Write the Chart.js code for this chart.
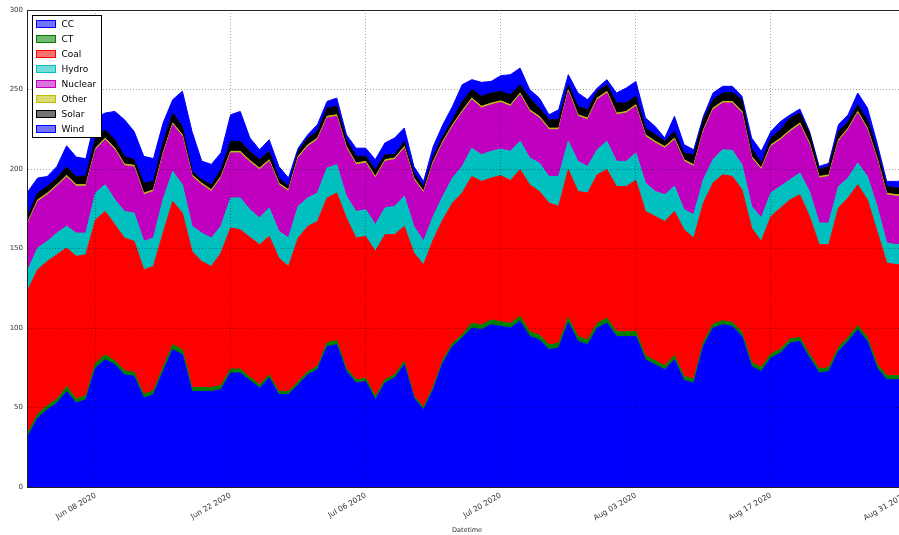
<!DOCTYPE html>
<html>
<head>
<meta charset="utf-8">
<title>Generation by fuel type</title>
<script src="https://cdn.jsdelivr.net/npm/chart.js@4.4.1/dist/chart.umd.min.js"></script>
<style>
  html, body { margin: 0; padding: 0; background: #fff; overflow: hidden; }
  #wrap { width: 908px; height: 535px; }
  canvas { display: block; }
</style>
</head>
<body>
<div id="wrap"><canvas id="genChart" width="908" height="535"></canvas></div>
<script>
"use strict";

/* ── Categorías: un punto por día (1 jun – 31 ago 2020) ─────────── */
const DATES = [
  "2020-06-01","2020-06-02","2020-06-03","2020-06-04","2020-06-05","2020-06-06","2020-06-07","2020-06-08","2020-06-09","2020-06-10",
  "2020-06-11","2020-06-12","2020-06-13","2020-06-14","2020-06-15","2020-06-16","2020-06-17","2020-06-18","2020-06-19","2020-06-20",
  "2020-06-21","2020-06-22","2020-06-23","2020-06-24","2020-06-25","2020-06-26","2020-06-27","2020-06-28","2020-06-29","2020-06-30",
  "2020-07-01","2020-07-02","2020-07-03","2020-07-04","2020-07-05","2020-07-06","2020-07-07","2020-07-08","2020-07-09","2020-07-10",
  "2020-07-11","2020-07-12","2020-07-13","2020-07-14","2020-07-15","2020-07-16","2020-07-17","2020-07-18","2020-07-19","2020-07-20",
  "2020-07-21","2020-07-22","2020-07-23","2020-07-24","2020-07-25","2020-07-26","2020-07-27","2020-07-28","2020-07-29","2020-07-30",
  "2020-07-31","2020-08-01","2020-08-02","2020-08-03","2020-08-04","2020-08-05","2020-08-06","2020-08-07","2020-08-08","2020-08-09",
  "2020-08-10","2020-08-11","2020-08-12","2020-08-13","2020-08-14","2020-08-15","2020-08-16","2020-08-17","2020-08-18","2020-08-19",
  "2020-08-20","2020-08-21","2020-08-22","2020-08-23","2020-08-24","2020-08-25","2020-08-26","2020-08-27","2020-08-28","2020-08-29",
  "2020-08-30","2020-08-31"
];

/* ── Etiquetas del eje X ─────────────────────────────────────────── */
const TICK_DATES  = ["2020-06-08","2020-06-22","2020-07-06","2020-07-20","2020-08-03","2020-08-17","2020-08-31"];
const TICK_LABELS = ["Jun 08 2020","Jun 22 2020","Jul 06 2020","Jul 20 2020","Aug 03 2020","Aug 17 2020","Aug 31 2020"];

/* ── Series (apiladas, en orden de abajo hacia arriba) ───────────── */
const CC = [
  31.8,43.4,48.6,52.8,60.1,52.8,54.9,74.8,80.1,76.9,
  70.6,69.6,55.9,58.1,72.7,86.4,83.3,60.1,60.1,60.1,
  61.2,71.7,71.7,67.0,62.3,68.6,58.1,58.1,64.3,70.6,
  73.8,88.4,89.5,72.7,65.4,66.4,54.9,65.4,68.6,76.9,
  55.9,48.6,61.2,78.0,88.4,93.7,100.0,98.9,102.1,101.0,
  100.0,104.3,94.7,92.6,86.4,87.4,103.5,91.6,89.5,100.0,
  103.1,94.7,94.7,94.7,80.1,76.9,73.8,80.1,67.0,65.4,
  88.4,100.0,102.1,101.0,94.7,75.8,72.7,81.1,84.3,90.6,
  91.6,81.1,71.7,72.7,85.3,91.6,98.9,91.6,74.8,67.5,
  67.5,67.5
];
const CT = [
  2.5,2.5,2.5,2.5,3.0,2.5,2.5,3.0,3.0,2.5,
  2.5,2.5,2.5,2.5,2.5,3.0,3.0,2.5,2.5,2.5,
  2.5,2.5,2.5,2.0,2.0,2.0,2.0,2.0,2.0,2.0,
  2.0,2.5,2.5,2.0,2.0,2.0,2.0,2.0,2.0,2.0,
  1.5,1.5,2.0,2.0,2.0,2.0,3.0,3.0,3.0,3.0,
  3.0,3.0,3.0,3.0,3.0,3.0,3.0,3.0,3.0,3.0,
  3.0,3.0,3.0,3.0,2.5,2.5,2.5,2.5,2.5,2.5,
  2.5,2.5,2.5,2.5,2.5,2.5,2.5,2.5,2.5,2.5,
  2.5,2.5,2.5,2.5,2.5,2.5,2.5,2.5,2.5,2.5,
  2.5,2.5
];
const COAL = [
  89.8,90.8,90.8,90.8,87.2,89.8,88.7,90.3,90.2,85.6,
  83.5,82.4,78.3,78.1,84.5,90.2,86.0,85.6,79.3,76.1,
  83.5,88.7,87.6,88.0,88.1,87.0,83.9,78.6,90.3,91.3,
  91.2,90.9,92.9,94.4,89.2,89.2,91.3,91.3,88.1,85.0,
  89.8,89.7,92.3,88.1,88.2,89.2,92.3,90.3,89.2,91.8,
  89.8,92.3,92.4,90.3,89.2,86.1,93.1,91.3,92.4,93.4,
  93.5,91.3,91.3,95.1,90.7,90.8,90.7,90.7,92.3,88.7,
  87.7,88.7,91.8,91.8,89.8,84.6,79.3,86.6,88.7,87.6,
  89.7,86.6,78.2,77.2,87.7,87.7,88.7,86.6,83.5,70.9,
  69.8,70.0
];
const HYDRO = [
  12.6,13.6,12.6,13.6,13.7,14.6,13.6,16.8,16.8,15.7,
  16.7,17.8,17.8,17.9,21.0,18.9,17.8,15.8,17.8,17.9,
  16.8,18.9,20.0,17.4,16.8,17.9,16.8,17.9,19.9,17.9,
  17.9,18.8,17.8,13.7,16.7,16.8,16.8,16.8,17.8,18.9,
  16.7,14.7,14.7,14.7,15.7,16.7,17.8,16.8,16.8,16.7,
  18.3,17.8,16.8,17.9,16.7,18.8,17.8,18.9,16.7,15.7,
  17.8,15.8,15.8,17.3,17.9,15.7,16.8,15.8,12.6,14.7,
  14.7,14.7,15.7,16.4,15.7,13.6,14.7,14.8,13.6,12.6,
  13.7,15.7,13.6,13.6,13.5,12.5,13.7,14.6,15.7,12.6,
  12.6,13.0
];
const NUCLEAR = [
  29.3,29.3,29.3,29.4,31.0,29.4,29.4,27.2,28.3,31.4,
  28.8,29.0,29.3,29.3,28.3,29.4,30.4,31.3,30.4,29.3,
  30.3,28.3,28.3,29.9,30.4,29.3,29.3,29.3,30.4,32.4,
  33.5,31.5,30.4,30.3,29.4,29.4,29.3,29.3,29.4,30.3,
  29.4,30.5,33.6,33.6,32.5,34.0,30.5,29.4,29.3,29.4,
  28.3,29.3,29.3,28.3,29.4,29.4,31.4,28.3,29.4,31.5,
  30.4,29.3,30.4,29.3,29.3,30.5,29.3,29.3,30.4,30.3,
  30.3,31.4,29.4,29.8,32.5,30.4,30.4,29.2,29.3,30.3,
  30.4,29.4,28.3,29.3,28.4,30.4,31.4,29.4,29.4,30.3,
  30.4,30.0
];
const OTHER = [
  1.0,1.0,1.0,1.0,1.0,1.0,1.0,1.0,1.0,1.0,
  1.0,1.0,1.0,1.0,1.0,1.0,1.0,1.0,1.0,1.0,
  1.0,1.0,1.0,1.0,1.0,1.0,1.0,1.0,1.0,1.0,
  1.0,1.0,1.0,1.0,1.0,1.0,1.0,1.0,1.0,1.0,
  1.0,1.0,1.0,1.0,1.0,1.0,1.0,1.0,1.0,1.0,
  1.0,1.0,1.0,1.0,1.0,1.0,1.0,1.0,1.0,1.0,
  1.0,1.0,1.0,1.0,1.0,1.0,1.0,1.0,1.0,1.0,
  1.0,1.0,1.0,1.0,1.0,1.0,1.0,1.0,1.0,1.0,
  1.0,1.0,1.0,1.0,1.0,1.0,1.0,1.0,1.0,1.0,
  1.0,1.0
];
const SOLAR = [
  4.3,4.4,4.3,4.2,5.3,5.2,5.6,6.4,5.3,5.3,
  4.9,3.6,6.4,5.3,6.4,6.3,5.3,2.2,2.2,3.2,
  4.3,6.3,6.3,5.7,5.3,5.3,3.2,2.2,3.2,4.3,
  4.2,5.3,5.3,4.3,4.3,3.2,4.3,3.2,2.1,3.3,
  3.2,3.0,3.2,3.1,3.2,5.9,5.3,6.3,6.4,5.9,
  6.3,5.3,7.4,5.3,5.3,5.3,3.2,5.3,5.3,4.2,
  4.2,6.4,5.3,5.3,4.3,4.2,3.3,4.2,4.2,6.4,
  6.4,5.3,5.3,5.7,7.4,5.2,3.2,4.3,5.3,7.5,
  6.3,6.3,4.3,5.3,5.2,4.2,4.2,5.3,5.2,4.3,
  4.3,4.0
];
const WIND = [
  14.6,9.3,6.2,7.3,13.3,12.2,10.8,12.6,10.5,17.8,
  23.0,17.7,16.8,14.3,12.5,8.4,22.1,25.1,11.7,12.8,
  10.5,16.7,18.8,8.5,6.2,7.3,7.3,5.2,2.0,2.1,
  4.3,4.1,5.2,3.2,5.1,5.1,6.3,7.4,10.5,8.4,
  4.1,3.2,6.2,7.4,8.4,10.5,6.3,8.8,7.3,9.9,
  12.6,10.5,5.3,6.2,3.1,6.3,6.3,8.4,6.3,2.1,
  3.2,6.3,9.4,9.4,6.3,5.2,2.1,9.5,5.3,3.1,
  2.1,4.2,4.2,3.8,2.1,6.4,7.3,4.1,5.2,2.0,
  2.5,1.0,2.0,2.0,4.3,4.2,7.4,7.4,4.3,3.1,
  4.1,5.0
];

const SERIES_NAMES = ["CC", "CT", "Coal", "Hydro", "Nuclear", "Other", "Solar", "Wind"];
const Y_TICKS      = [0, 50, 100, 150, 200, 250, 300];

/* ── Estilo (ciclo clásico b g r c m y k) ────────────────────────── */
const COLORS = ["#0000ff", "#008000", "#ff0000", "#00bfbf", "#bf00bf", "#bfbf00", "#000000", "#0000ff"];
const FONT   = "'DejaVu Sans', 'Liberation Sans', sans-serif";
const TEXT   = "#333";
const GRID   = "rgba(0,0,0,0.35)";

function hexToRgba(hex, alpha) {
  const r = parseInt(hex.slice(1, 3), 16);
  const g = parseInt(hex.slice(3, 5), 16);
  const b = parseInt(hex.slice(5, 7), 16);
  return `rgba(${r},${g},${b},${alpha})`;
}

/* ── Plugin: marco del área + leyenda dentro del gráfico ─────────── */
const frameAndLegend = {
  id: "frameAndLegend",
  afterDraw(chart) {
    const { ctx, chartArea } = chart;
    ctx.save();

    /* Marco negro alrededor del área */
    ctx.strokeStyle = "#222";
    ctx.lineWidth = 1;
    ctx.strokeRect(chartArea.left - 0.5, chartArea.top + 0.5,
                   chartArea.right - chartArea.left + 1, chartArea.bottom - chartArea.top);

    /* Leyenda */
    const x0 = chartArea.left + 4.5, y0 = chartArea.top + 5.5;
    const w = 69, rowH = 15, h = 8 * rowH + 2;
    ctx.fillStyle = "#fff";
    ctx.fillRect(x0, y0, w, h);
    ctx.strokeStyle = "#000";
    ctx.strokeRect(x0, y0, w, h);

    ctx.font = "9px " + FONT;
    ctx.textBaseline = "middle";
    chart.data.datasets.forEach((ds, i) => {
      const cy = y0 + 9 + i * rowH;
      ctx.fillStyle = hexToRgba(ds.borderColor, 0.55);
      ctx.fillRect(x0 + 4, cy - 4, 19, 7);
      ctx.strokeStyle = ds.borderColor;
      ctx.strokeRect(x0 + 4, cy - 4, 19, 7);
      ctx.fillStyle = "#000";
      ctx.fillText(ds.label, x0 + 29, cy);
    });
    ctx.restore();
  }
};

/* ── Construcción del gráfico ────────────────────────────────────── */
const SERIES = [CC, CT, COAL, HYDRO, NUCLEAR, OTHER, SOLAR, WIND];

const datasets = SERIES.map((values, i) => ({
  label: SERIES_NAMES[i],
  data: values,
  borderColor: COLORS[i],
  backgroundColor: COLORS[i],
  borderWidth: 1,
  pointRadius: 0,
  tension: 0,
  fill: i === 0 ? "origin" : "-1",
}));

new Chart(document.getElementById("genChart"), {
  type: "line",
  plugins: [frameAndLegend],
  data: { labels: DATES, datasets },
  options: {
    responsive: false,
    animation: false,
    devicePixelRatio: 1,
    layout: { padding: { top: 10, right: 2, left: 0, bottom: 0 } },
    scales: {
      x: {
        type: "category",
        offset: false,
        grid: {
          z: 1,
          drawTicks: false,
          color: c => TICK_DATES.includes(DATES[c.index]) ? GRID : "transparent",
        },
        border: { display: false, dash: [1, 2] },
        ticks: {
          autoSkip: false,
          maxRotation: 30,
          minRotation: 30,
          padding: 4,
          color: TEXT,
          font: { family: FONT, size: 7.5 },
          callback: (v, idx) => {
            const k = TICK_DATES.indexOf(DATES[idx]);
            return k >= 0 ? TICK_LABELS[k] : "";
          },
        },
        title: {
          display: true,
          text: "Datetime",
          color: TEXT,
          font: { family: FONT, size: 6.5 },
          padding: { top: 0, bottom: 1 },
        },
        afterFit(s) { s.height = 48; s.paddingLeft = 0; s.paddingRight = 0; },
      },
      y: {
        stacked: true,
        min: 0,
        max: 300,
        afterBuildTicks(s) { s.ticks = Y_TICKS.map(v => ({ value: v })); },
        grid: { z: 1, drawTicks: false, color: GRID },
        border: { display: false, dash: [1, 2] },
        ticks: {
          padding: 5,
          color: TEXT,
          font: { family: FONT, size: 7 },
        },
        afterFit(s) { s.width = 28; s.paddingTop = 0; s.paddingBottom = 0; },
      },
    },
    plugins: {
      legend: { display: false },
      tooltip: { enabled: false },
    },
  },
});
</script>
</body>
</html>
